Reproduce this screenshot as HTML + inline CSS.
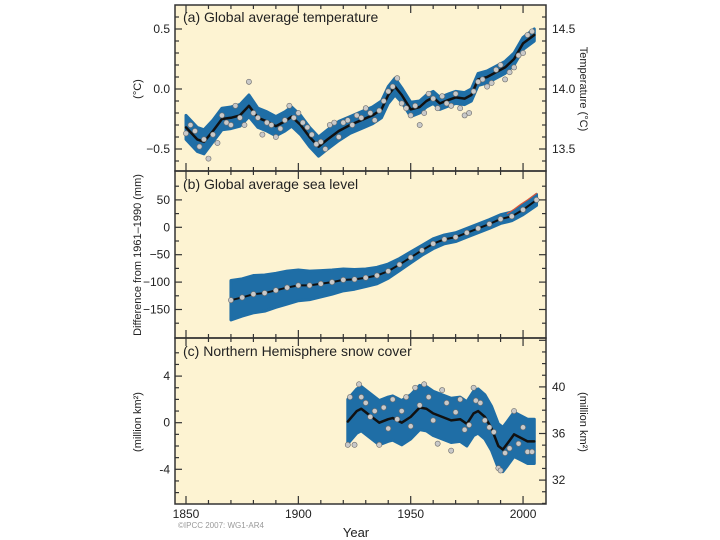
<!DOCTYPE html>
<html><head><meta charset="utf-8"><style>
html,body{margin:0;padding:0;background:#fff;}
svg{display:block;font-family:"Liberation Sans",Arial,sans-serif;}
</style></head><body>
<svg id="chart" width="720" height="540" viewBox="0 0 720 540">
<g id="bg"></g><g id="marks"></g><g id="axes"></g>
</svg>
<script>
// ---- data ----
const tempYears=[1850,1855,1858,1862,1866,1870,1874,1878,1882,1886,1890,1894,1897,1901,1905,1909,1913,1918,1923,1928,1933,1937,1940,1943,1946,1950,1954,1957,1960,1963,1967,1970,1974,1977,1980,1984,1988,1992,1996,2000,2005];
const tempSmooth=[-0.32,-0.42,-0.44,-0.35,-0.25,-0.24,-0.22,-0.14,-0.24,-0.27,-0.31,-0.27,-0.23,-0.30,-0.40,-0.48,-0.42,-0.35,-0.30,-0.26,-0.22,-0.17,-0.05,0.02,-0.05,-0.17,-0.15,-0.10,-0.07,-0.12,-0.09,-0.07,-0.08,-0.05,0.08,0.10,0.14,0.18,0.25,0.38,0.45];
const tempHalf=[0.1,0.1,0.1,0.09,0.09,0.09,0.09,0.09,0.08,0.08,0.08,0.08,0.08,0.08,0.08,0.08,0.08,0.08,0.07,0.07,0.07,0.07,0.07,0.07,0.06,0.06,0.05,0.05,0.05,0.05,0.05,0.05,0.05,0.05,0.05,0.05,0.05,0.05,0.05,0.05,0.05];
const tempPtYears=[1850,1852,1854,1856,1858,1860,1862,1864,1866,1868,1870,1872,1874,1876,1878,1880,1882,1884,1886,1888,1890,1892,1894,1896,1898,1900,1902,1904,1906,1908,1910,1912,1914,1916,1918,1920,1922,1924,1926,1928,1930,1932,1934,1936,1938,1940,1942,1944,1946,1948,1950,1952,1954,1956,1958,1960,1962,1964,1966,1968,1970,1972,1974,1976,1978,1980,1982,1984,1986,1988,1990,1992,1994,1996,1998,2000,2002,2004];
const tempPts=[-0.37,-0.30,-0.35,-0.48,-0.42,-0.58,-0.38,-0.45,-0.22,-0.28,-0.30,-0.14,-0.24,-0.30,0.06,-0.20,-0.24,-0.38,-0.28,-0.30,-0.40,-0.33,-0.26,-0.14,-0.24,-0.20,-0.28,-0.32,-0.38,-0.46,-0.44,-0.50,-0.30,-0.28,-0.40,-0.28,-0.26,-0.30,-0.22,-0.24,-0.16,-0.20,-0.26,-0.18,-0.10,-0.02,0.02,0.09,-0.12,-0.16,-0.22,-0.14,-0.30,-0.20,-0.04,-0.08,-0.16,-0.06,-0.12,-0.14,-0.04,-0.16,-0.22,-0.20,-0.02,0.06,0.08,0.02,0.05,0.16,0.20,0.08,0.14,0.18,0.28,0.30,0.45,0.48];
const seaYears=[1870,1875,1880,1885,1890,1895,1900,1905,1910,1915,1920,1925,1930,1935,1940,1945,1950,1955,1960,1965,1970,1975,1980,1985,1990,1995,2000,2006];
const seaSmooth=[-133,-128,-122,-120,-115,-110,-106,-106,-103,-100,-96,-95,-92,-88,-80,-68,-55,-42,-30,-22,-18,-10,-2,6,15,20,32,50];
const seaHalf=[36,34,34,33,31,30,28,26,24,22,20,18,16,15,13,11,10,9,9,8,8,8,8,8,8,8,9,10];
const satYears=[1993,1996,1999,2002,2006];
const satVals=[25,33,42,50,62];
const snowYears=[1922,1926,1928,1932,1936,1940,1942,1946,1950,1954,1957,1960,1964,1968,1972,1975,1978,1980,1983,1986,1989,1991,1993,1996,1999,2002,2005];
const snowSmooth=[0.1,1.0,1.2,0.6,0.0,0.3,0.4,0.0,0.5,1.3,1.2,0.8,0.5,0.2,0.3,-0.1,0.8,1.0,0.5,-0.5,-2.0,-2.3,-1.8,-1.0,-1.3,-1.6,-1.6];
const snowHalf=[1.9,1.9,1.9,1.9,1.9,1.9,1.9,1.9,1.9,1.9,1.9,1.9,1.9,1.9,1.9,1.9,1.9,1.9,1.9,1.9,1.9,1.9,1.9,1.9,1.9,1.9,1.9];
const snowPtYears=[1922,1923,1925,1927,1928,1930,1932,1934,1936,1938,1940,1942,1944,1946,1948,1950,1952,1954,1956,1958,1960,1962,1964,1966,1968,1970,1972,1974,1976,1978,1979,1981,1983,1985,1987,1989,1990,1992,1994,1996,1998,2000,2002,2004];
const snowPts=[-1.9,2.2,-1.9,3.3,2.2,1.7,0.5,1.0,-1.9,1.3,-0.5,2.0,0.3,1.0,2.2,-0.3,3.0,1.5,3.3,2.2,0.2,-1.8,2.8,1.7,-2.4,0.9,2.0,-0.6,-0.2,3.0,1.9,1.7,0.2,-0.4,-0.8,-3.9,-4.1,-2.6,-2.2,1.0,-1.8,-0.4,-2.5,-2.5];
const xTickLabels=["1850","1900","1950","2000"];
const tempLeftTicks=["0.5","0.0","\u22120.5"];
const tempRightTicks=["14.5","14.0","13.5"];
const seaTicks=["50","0","\u221250","\u2212100","\u2212150"];
const snowLeftTicks=["4","0","-4"];
const snowRightTicks=["40","36","32"];

// ---- scales ----
const L=175,R=546;
const x=y=>186+(y-1850)*2.247;
const yA=v=>89-v*120;
const yB=v=>227.3-v*0.548;
const yC=v=>422.7-v*11.65;
const yCr=v=>433.5-(v-36)*11.65;
const NS="http://www.w3.org/2000/svg";
function el(tag,attrs,parent,text){const e=document.createElementNS(NS,tag);for(const k in attrs)e.setAttribute(k,attrs[k]);if(text!==undefined)e.textContent=text;parent.appendChild(e);return e;}
const bg=document.getElementById('bg'),marks=document.getElementById('marks'),axes=document.getElementById('axes');
const panels=[[5,171],[171,338],[338,504]];
panels.forEach((p,i)=>{
  const r=el('rect',{x:L,y:p[0],width:R-L,height:p[1]-p[0],fill:'#fdf3d2'},bg);
  
  
});
function band(years,mid,half,ys,name){
  let d='';
  years.forEach((yr,i)=>{d+=(i?'L':'M')+x(yr)+','+ys(mid[i]+half[i]);});
  for(let i=years.length-1;i>=0;i--)d+='L'+x(years[i])+','+ys(mid[i]-half[i]);
  const e=el('path',{d:d+'Z',fill:'#1f6ea6',stroke:'#1f6ea6','stroke-width':3,'stroke-linejoin':'round'},marks);
  
  
}
function line(years,vals,ys,name,color,w){
  const d=years.map((yr,i)=>(i?'L':'M')+x(yr)+','+ys(vals[i])).join('');
  const e=el('path',{d:d,fill:'none',stroke:color,'stroke-width':w,'stroke-linejoin':'round','stroke-linecap':'round'},marks);
  
  
}
function pts(years,vals,ys,name){
  years.forEach((yr,i)=>{
    const c=el('circle',{cx:x(yr),cy:ys(vals[i]),r:2.6,fill:'#c9c9c9',stroke:'#6b6b6b','stroke-width':0.6},marks);
    
    
  });
}
band(tempYears,tempSmooth,tempHalf,yA,'temperature-uncertainty-band');
line(tempYears,tempSmooth,yA,'temperature-smoothed-line','#111',2.5);
pts(tempPtYears,tempPts,yA,'temperature-annual-point');
band(seaYears,seaSmooth,seaHalf,yB,'sea-level-uncertainty-band');
line(seaYears,seaSmooth,yB,'sea-level-smoothed-line','#111',2);
pts(seaYears,seaSmooth,yB,'sea-level-annual-point');
line(satYears,satVals,yB,'satellite-sea-level-line','#d9553a',1.2);
band(snowYears,snowSmooth,snowHalf,yC,'snow-cover-uncertainty-band');
line(snowYears,snowSmooth,yC,'snow-cover-smoothed-line','#111',2.5);
pts(snowPtYears,snowPts,yC,'snow-cover-annual-point');

// frames & ticks
panels.forEach((p,i)=>{
  const f=el('rect',{x:L,y:p[0],width:R-L,height:p[1]-p[0],fill:'none',stroke:'#333','stroke-width':1.5},axes);
  
  
  for(let yr=1850;yr<=2000;yr+=10){
    const len=yr%50===0?8:4;
    el('line',{x1:x(yr),x2:x(yr),y1:p[0],y2:p[0]+len,stroke:'#333','stroke-width':1.2},axes);
    el('line',{x1:x(yr),x2:x(yr),y1:p[1],y2:p[1]-len,stroke:'#333','stroke-width':1.2},axes);
  }
});
function yTicks(ys,from,to,step,majorStep,side){
  for(let v=from;v<=to+1e-9;v+=step){
    const yy=ys(v);const maj=Math.abs(v/majorStep-Math.round(v/majorStep))<1e-6;const len=maj?7:4;
    if(side==='L')el('line',{x1:L,x2:L+len,y1:yy,y2:yy,stroke:'#333','stroke-width':1.2},axes);
    else el('line',{x1:R,x2:R-len,y1:yy,y2:yy,stroke:'#333','stroke-width':1.2},axes);
  }
}
yTicks(yA,-0.6,0.6,0.1,0.5,'L');
yTicks(v=>yA(v-14),13.4,14.6,0.1,0.5,'R');
yTicks(yB,-175,75,25,50,'L');yTicks(yB,-175,75,25,50,'R');
yTicks(yC,-6,6,1,4,'L');
yTicks(yCr,30,44,1,4,'R');
function txt(s,a,name){const t=el('text',a,axes,s);return t;}
[0.5,0,-0.5].forEach((v,i)=>txt(tempLeftTicks[i],{x:170,y:yA(v)+4,'text-anchor':'end','font-size':12,fill:'#222'},'temp-left-tick-label'));
[14.5,14,13.5].forEach((v,i)=>txt(tempRightTicks[i],{x:552,y:yA(v-14)+4,'font-size':12,fill:'#222'},'temp-right-tick-label'));
[50,0,-50,-100,-150].forEach((v,i)=>txt(seaTicks[i],{x:170,y:yB(v)+4,'text-anchor':'end','font-size':12,fill:'#222'},'sea-tick-label'));
[4,0,-4].forEach((v,i)=>txt(snowLeftTicks[i],{x:170,y:yC(v)+4,'text-anchor':'end','font-size':12,fill:'#222'},'snow-left-tick-label'));
[40,36,32].forEach((v,i)=>txt(snowRightTicks[i],{x:552,y:yCr(v)+4,'font-size':12,fill:'#222'},'snow-right-tick-label'));
[1850,1900,1950,2000].forEach((v,i)=>txt(xTickLabels[i],{x:x(v),y:518,'text-anchor':'middle','font-size':12,fill:'#222'},'x-tick-label'));
txt('(a) Global average temperature',{x:183,y:22,'font-size':14,fill:'#222'},'panel-a-title');
txt('(b) Global average sea level',{x:183,y:189,'font-size':14,fill:'#222'},'panel-b-title');
txt('(c) Northern Hemisphere snow cover',{x:183,y:356,'font-size':14,fill:'#222'},'panel-c-title');
txt('(°C)',{x:0,y:0,'font-size':11,fill:'#222','text-anchor':'middle',transform:'translate(141,89) rotate(-90)'},'temp-left-axis-title');
txt('Temperature (°C)',{x:0,y:0,'font-size':11,fill:'#222','text-anchor':'middle',transform:'translate(580,89) rotate(90)'},'temp-right-axis-title');
txt('Difference from 1961–1990 (mm)',{x:0,y:0,'font-size':11,fill:'#222','text-anchor':'middle',transform:'translate(141,255) rotate(-90)'},'sea-axis-title');
txt('(million km²)',{x:0,y:0,'font-size':11,fill:'#222','text-anchor':'middle',transform:'translate(141,422) rotate(-90)'},'snow-left-axis-title');
txt('(million km²)',{x:0,y:0,'font-size':11,fill:'#222','text-anchor':'middle',transform:'translate(580,422) rotate(90)'},'snow-right-axis-title');
txt('Year',{x:356,y:537,'text-anchor':'middle','font-size':13,fill:'#222'},'x-axis-title');
txt('©IPCC  2007: WG1-AR4',{x:178,y:528,'font-size':8,fill:'#999'},'copyright-note');
</script>
</body></html>
